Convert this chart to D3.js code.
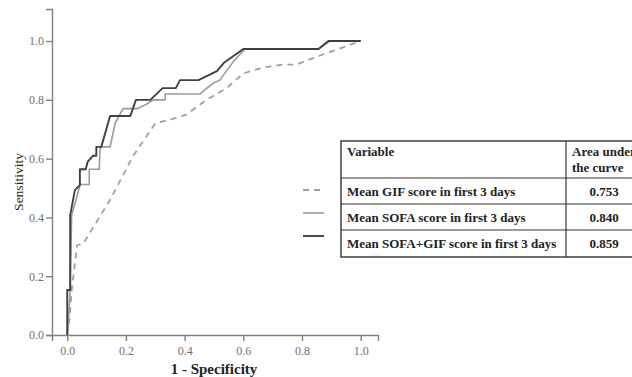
<!DOCTYPE html>
<html>
<head>
<meta charset="utf-8">
<script src="https://cdn.jsdelivr.net/npm/d3@7.9.0/dist/d3.min.js"></script>
<style>
  body { margin: 0; background: #fff; }
  svg text { font-family: "Liberation Serif", "Times New Roman", "DejaVu Serif", serif; }
</style>
</head>
<body>
<svg width="632" height="377"></svg>
<script>
// ROC curves: 1 - specificity (fpr) and sensitivity (tpr)
const gifFpr  = [0, 0.007, 0.015, 0.034, 0.054, 0.146, 0.225, 0.3, 0.36, 0.406, 0.475, 0.543, 0.6, 0.668, 0.735, 0.78, 0.86, 1];
const gifTpr  = [0, 0.05, 0.153, 0.306, 0.31, 0.46, 0.61, 0.72, 0.735, 0.75, 0.8, 0.84, 0.89, 0.91, 0.92, 0.92, 0.95, 1];

const sofaFpr = [0, 0.004, 0.01, 0.015, 0.03, 0.044, 0.075, 0.075, 0.109, 0.112, 0.146, 0.163, 0.19, 0.24, 0.27, 0.293, 0.334, 0.334, 0.453, 0.476, 0.498, 0.52, 0.566, 0.605, 0.856, 0.895, 1];
const sofaTpr = [0, 0.05, 0.153, 0.408, 0.46, 0.512, 0.512, 0.564, 0.564, 0.64, 0.64, 0.72, 0.77, 0.77, 0.785, 0.8, 0.8, 0.82, 0.82, 0.84, 0.857, 0.867, 0.93, 0.973, 0.973, 1, 1];

const bothFpr = [0, 0, 0.01, 0.01, 0.026, 0.043, 0.043, 0.063, 0.07, 0.088, 0.099, 0.099, 0.116, 0.146, 0.215, 0.234, 0.283, 0.3, 0.325, 0.37, 0.384, 0.447, 0.51, 0.533, 0.6, 0.856, 0.89, 1];
const bothTpr = [0, 0.153, 0.153, 0.408, 0.493, 0.51, 0.564, 0.564, 0.59, 0.61, 0.61, 0.64, 0.64, 0.745, 0.745, 0.8, 0.8, 0.816, 0.84, 0.84, 0.867, 0.867, 0.898, 0.925, 0.973, 0.973, 1, 1];

const legendLabels = ["Mean GIF score in first 3 days", "Mean SOFA score in first 3 days", "Mean SOFA+GIF score in first 3 days"];
const aucValues = ["0.753", "0.840", "0.859"];
const tickValues = [0, 0.2, 0.4, 0.6, 0.8, 1.0];

const svg = d3.select("svg");

const x = d3.scaleLinear().domain([-0.052, 1.059]).range([52, 378]);
const y = d3.scaleLinear().domain([0, 1.109]).range([335, 9]);

const series = [
  { fpr: gifFpr, tpr: gifTpr, color: "#a0a0a0", width: 1.8, dash: "6,5" },
  { fpr: sofaFpr, tpr: sofaTpr, color: "#9a9a9a", width: 1.6, dash: null },
  { fpr: bothFpr, tpr: bothTpr, color: "#404040", width: 1.9, dash: null }
];

// axes
const axisColor = "#808080";
const xAxis = svg.append("g").attr("transform", "translate(0,335)")
  .call(d3.axisBottom(x).tickValues(tickValues).tickFormat(d3.format(".1f")).tickSize(6));
const yAxis = svg.append("g").attr("transform", "translate(52,0)")
  .call(d3.axisLeft(y).tickValues(tickValues).tickFormat(d3.format(".1f")).tickSize(6));
[xAxis, yAxis].forEach(g => {
  g.attr("font-family", null).attr("font-size", null);
  g.select(".domain").attr("stroke", axisColor).attr("stroke-width", 1.4);
  g.selectAll(".tick line").attr("stroke", axisColor).attr("stroke-width", 1.4);
  g.selectAll(".tick text").attr("fill", "#707070").attr("font-size", 12);
});
xAxis.selectAll(".tick text").attr("dy", "1em").attr("y", 8);
yAxis.selectAll(".tick text").attr("x", -8);

svg.append("text").attr("x", 214).attr("y", 374).attr("text-anchor", "middle")
  .attr("font-weight", "bold").attr("font-size", 15).attr("fill", "#222").text("1 - Specificity");
svg.append("text").attr("transform", "translate(23,182) rotate(-90)").attr("text-anchor", "middle")
  .attr("font-size", 13.5).attr("fill", "#222").text("Sensitivity");

// curves
const line = d3.line().x(d => x(d[0])).y(d => y(d[1]));
series.forEach(s => {
  svg.append("path")
    .datum(s.fpr.map((f, i) => [f, s.tpr[i]]))
    .attr("d", line)
    .attr("fill", "none")
    .attr("stroke", s.color)
    .attr("stroke-width", s.width)
    .attr("stroke-dasharray", s.dash)
    .attr("stroke-linejoin", "round");
});

// legend table
const tbl = svg.append("g");
const rowLines = [141, 178, 204, 230, 257];
const legendY = [190, 213, 236];
tbl.append("rect").attr("x", 341).attr("y", 141).attr("width", 310).attr("height", 116)
  .attr("fill", "#fff").attr("stroke", "#333").attr("stroke-width", 1.4);
rowLines.slice(1, -1).forEach(ry => tbl.append("line").attr("x1", 341).attr("x2", 640)
  .attr("y1", ry).attr("y2", ry).attr("stroke", "#333").attr("stroke-width", 1.2));
tbl.append("line").attr("x1", 566).attr("x2", 566).attr("y1", 141).attr("y2", 257)
  .attr("stroke", "#333").attr("stroke-width", 1.2);

const tstyle = t => t.attr("font-weight", "bold").attr("font-size", 13).attr("fill", "#222");
tstyle(tbl.append("text").attr("x", 347).attr("y", 156).text("Variable"));
tstyle(tbl.append("text").attr("x", 572).attr("y", 156).text("Area under"));
tstyle(tbl.append("text").attr("x", 572).attr("y", 172).text("the curve"));
legendLabels.forEach((lab, i) => {
  const cy = (rowLines[i + 1] + rowLines[i + 2]) / 2;
  tstyle(tbl.append("text").attr("x", 347).attr("y", cy + 4.5).text(lab));
  tstyle(tbl.append("text").attr("x", 604).attr("y", cy + 4.5).attr("text-anchor", "middle").text(aucValues[i]));
  svg.append("line").attr("x1", 303).attr("x2", 324).attr("y1", legendY[i]).attr("y2", legendY[i])
    .attr("stroke", series[i].color).attr("stroke-width", series[i].width)
    .attr("stroke-dasharray", series[i].dash);
});
</script>
</body>
</html>
